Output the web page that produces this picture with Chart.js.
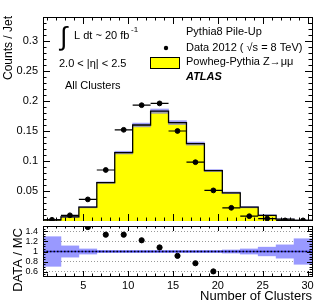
<!DOCTYPE html>
<html>
<head>
<meta charset="utf-8">
<script src="https://cdn.jsdelivr.net/npm/chart.js@4.4.1/dist/chart.umd.min.js"></script>
<style>
  body { margin: 0; background: #fff; }
  #wrap { position: relative; width: 329px; height: 305px; }
  #wrap canvas { position: absolute; left: 0; }
  #main { top: 0; }
  #ratio { top: 221px; }
</style>
</head>
<body>
<div id="wrap">
  <canvas id="main" width="329" height="221"></canvas>
  <canvas id="ratio" width="329" height="84"></canvas>
</div>
<script>
// --- data ---
const binEdges = [0.5, 2.5, 4.5, 6.5, 8.5, 10.5, 12.5, 14.5, 16.5, 18.5, 20.5, 22.5, 24.5, 26.5, 28.5, 30.5];
const binCenters = [1.5, 3.5, 5.5, 7.5, 9.5, 11.5, 13.5, 15.5, 17.5, 19.5, 21.5, 23.5, 25.5, 27.5, 29.5];
const mcValues = [0.002, 0.007, 0.023, 0.064, 0.114, 0.160, 0.183, 0.164, 0.129, 0.084, 0.047, 0.023, 0.0095, 0.003, 0.001];
const dataValues = [0.002, 0.0095, 0.036, 0.085, 0.152, 0.193, 0.196, 0.150, 0.098, 0.051, 0.022, 0.008, 0.004, 0.001, 0.001];
const mcRelErr = [0.29, 0.11, 0.05, 0.02, 0.02, 0.02, 0.02, 0.02, 0.02, 0.02, 0.03, 0.05, 0.085, 0.13, 0.25];
const ratioValues = [null, null, 1.48, 1.33, 1.33, 1.22, 1.08, 0.915, 0.77, 0.61, null, null, null, null, null];
const mainYTicks = [0.05, 0.1, 0.15, 0.2, 0.25, 0.3];
const ratioYTicks = [0.6, 0.8, 1, 1.2, 1.4];
const xTicks = [5, 10, 15, 20, 25, 30];

const FONT = "'Liberation Sans', Arial, sans-serif";

// ROOT style frame with inward ticks on all four sides
const frameTicks = {
  id: 'frameTicks',
  afterDatasetsDraw(chart, args, o) {
    const { ctx, chartArea: a, scales: { x, y } } = chart;
    ctx.save();
    ctx.strokeStyle = '#000';
    ctx.lineWidth = 1;
    ctx.beginPath();
    for (let i = o.xFrom; i <= o.xTo; i++) {
      const px = Math.round(x.getPixelForValue(i)) + 0.5;
      const len = i % 5 === 0 ? o.xMajor : o.xMajor / 2;
      ctx.moveTo(px, a.bottom); ctx.lineTo(px, a.bottom - len);
      ctx.moveTo(px, a.top); ctx.lineTo(px, a.top + len);
    }
    for (let k = o.yFrom; k <= o.yTo; k++) {
      const v = k * o.yMinor;
      const py = Math.round(y.getPixelForValue(v)) + 0.5;
      const len = k % o.yEvery === 0 ? o.yMajor : o.yMajor / 2;
      ctx.moveTo(a.left, py); ctx.lineTo(a.left + len, py);
      ctx.moveTo(a.right, py); ctx.lineTo(a.right - len, py);
    }
    ctx.stroke();
    ctx.strokeRect(Math.round(a.left) + 0.5, Math.round(a.top) + 0.5,
      Math.round(a.right - a.left), Math.round(a.bottom - a.top));
    ctx.restore();
  }
};

// text labels, legend and axis titles
const mainText = {
  id: 'mainText',
  afterDraw(chart) {
    const ctx = chart.ctx;
    ctx.save();
    ctx.fillStyle = '#000';
    ctx.textBaseline = 'middle';
    ctx.textAlign = 'left';
    ctx.font = `26px ${FONT}`;
    ctx.fillText('∫', 60, 38);
    ctx.font = `11px ${FONT}`;
    ctx.fillText('L dt ~ 20 fb', 74, 36);
    ctx.font = `8px ${FONT}`;
    ctx.fillText('-1', 131, 30);
    ctx.font = `11px ${FONT}`;
    ctx.fillText('2.0 < |η| < 2.5', 59, 64);
    ctx.fillText('All Clusters', 65, 86);

    // legend
    ctx.fillText('Pythia8 Pile-Up', 186, 32);
    ctx.fillText('Data 2012 ( √s = 8 TeV)', 186, 48);
    ctx.fillText('Powheg-Pythia Z→μμ', 186, 62);
    ctx.font = `bold italic 11px ${FONT}`;
    ctx.fillText('ATLAS', 186, 77);
    ctx.beginPath();
    ctx.arc(166, 48, 2.2, 0, Math.PI * 2);
    ctx.fill();
    ctx.fillStyle = '#ffff00';
    ctx.fillRect(150, 57, 29, 11);
    ctx.strokeStyle = '#000';
    ctx.lineWidth = 1;
    ctx.strokeRect(150.5, 57.5, 29, 11);

    // y title
    ctx.fillStyle = '#000';
    ctx.translate(9, 16);
    ctx.rotate(-Math.PI / 2);
    ctx.textAlign = 'right';
    ctx.font = `12px ${FONT}`;
    ctx.fillText('Counts / Jet', 0, 0);
    ctx.restore();
  }
};

const ratioText = {
  id: 'ratioText',
  afterDraw(chart) {
    const ctx = chart.ctx;
    ctx.save();
    ctx.fillStyle = '#000';
    ctx.textBaseline = 'middle';
    ctx.translate(18, 7);
    ctx.rotate(-Math.PI / 2);
    ctx.textAlign = 'right';
    ctx.font = `13px ${FONT}`;
    ctx.fillText('DATA / MC', 0, 0);
    ctx.restore();
  }
};

function fixY(s) {
  s.width = 43;
  s.paddingTop = 0;
  s.paddingBottom = 0;
}

// --- main panel ---
const stepPoints = binEdges.map((e, i) => ({ x: e, y: mcValues[Math.min(i, mcValues.length - 1)] }));
const mcBand = binCenters.map((c, i) => ({ x: c, y: [mcValues[i] * (1 - mcRelErr[i]), mcValues[i] * (1 + mcRelErr[i])] }));
const dataPoints = binCenters.map((c, i) => ({ x: c, y: dataValues[i] }));
const xErrSegs = [];
binCenters.forEach((c, i) => {
  xErrSegs.push({ x: binEdges[i], y: dataValues[i] });
  xErrSegs.push({ x: binEdges[i + 1], y: dataValues[i] });
  xErrSegs.push({ x: binEdges[i + 1], y: null });
});

new Chart(document.getElementById('main'), {
  type: 'bar',
  data: {
    datasets: [
      { type: 'line', data: stepPoints, stepped: 'before', fill: 'origin',
        backgroundColor: '#ffff00', borderWidth: 0, pointRadius: 0, order: 5 },
      { type: 'bar', data: mcBand, backgroundColor: 'rgba(120,120,245,0.7)',
        barPercentage: 1, categoryPercentage: 1, grouped: false, order: 4 },
      { type: 'line', data: stepPoints, stepped: 'before', fill: false,
        borderColor: '#000', borderWidth: 1.3, pointRadius: 0, order: 3 },
      { type: 'line', data: xErrSegs, spanGaps: false, fill: false,
        borderColor: '#000', borderWidth: 1.2, pointRadius: 0, order: 2 },
      { type: 'scatter', data: dataPoints, backgroundColor: '#000', borderColor: '#000',
        pointRadius: 2.4, order: 1 }
    ]
  },
  options: {
    responsive: false,
    animation: false,
    devicePixelRatio: 1,
    layout: { autoPadding: false, padding: { left: 0, right: 17, top: 17, bottom: 0 } },
    plugins: { legend: { display: false }, tooltip: { enabled: false },
      frameTicks: { xFrom: 1, xTo: 30, xMajor: 7, yFrom: 1, yTo: 33, yMinor: 0.01, yEvery: 5, yMajor: 7 } },
    scales: {
      x: { type: 'linear', min: 0.5, max: 30.5, offset: false,
        grid: { display: false }, border: { display: false },
        ticks: { display: false },
        afterFit: s => { s.height = 0; s.paddingLeft = 0; s.paddingRight = 0; } },
      y: { min: 0, max: 0.34,
        grid: { display: false, drawTicks: false }, border: { display: false },
        afterBuildTicks: s => { s.ticks = mainYTicks.map(v => ({ value: v })); },
        afterFit: fixY,
        ticks: { color: '#000', padding: 5, font: { family: FONT, size: 11, lineHeight: 0 },
          callback: v => String(+v.toFixed(2)) } }
    }
  },
  plugins: [frameTicks, mainText]
});

// --- ratio panel ---
const ratioBand = binCenters.map((c, i) => ({ x: c, y: [1 - mcRelErr[i], 1 + mcRelErr[i]] }));
const ratioPoints = binCenters.map((c, i) => ({ x: c, y: ratioValues[i] }));
const unityLine = [{ x: binEdges[0], y: 1 }, { x: binEdges[binEdges.length - 1], y: 1 }];

new Chart(document.getElementById('ratio'), {
  type: 'bar',
  data: {
    datasets: [
      { type: 'bar', data: ratioBand, backgroundColor: '#9999ff',
        barPercentage: 1, categoryPercentage: 1, grouped: false, order: 4 },
      { type: 'line', data: unityLine, borderColor: '#3a3ad8', borderWidth: 1.5,
        pointRadius: 0, fill: false, order: 3 },
      { type: 'line', data: unityLine, borderColor: '#000', borderWidth: 1.5, borderDash: [1.5, 2],
        pointRadius: 0, fill: false, order: 2 },
      { type: 'scatter', data: ratioPoints, backgroundColor: '#000', borderColor: '#000',
        pointRadius: 2.6, order: 1 }
    ]
  },
  options: {
    responsive: false,
    animation: false,
    devicePixelRatio: 1,
    layout: { autoPadding: false, padding: { left: 0, right: 17, top: 5, bottom: 0 } },
    plugins: { legend: { display: false }, tooltip: { enabled: false },
      frameTicks: { xFrom: 1, xTo: 30, xMajor: 5, yFrom: 11, yTo: 29, yMinor: 0.05, yEvery: 4, yMajor: 5 } },
    scales: {
      x: { type: 'linear', min: 0.5, max: 30.5, offset: false,
        grid: { display: false, drawTicks: false }, border: { display: false },
        afterBuildTicks: s => { s.ticks = xTicks.map(v => ({ value: v })); },
        afterFit: s => { s.height = 29; s.paddingLeft = 0; s.paddingRight = 0; },
        ticks: { color: '#000', padding: 3, maxRotation: 0, font: { family: FONT, size: 11 } },
        title: { display: true, text: 'Number of Clusters', align: 'end', color: '#000',
          padding: { top: 0, bottom: 1 }, font: { family: FONT, size: 13 } } },
      y: { min: 0.52, max: 1.5,
        grid: { drawTicks: false, color: c => (c.tick && c.tick.value === 1 ? 'rgba(0,0,0,0)' : '#999'), lineWidth: 1 },
        border: { display: false, dash: [1, 2] },
        afterBuildTicks: s => { s.ticks = ratioYTicks.map(v => ({ value: v })); },
        afterFit: fixY,
        ticks: { color: '#000', padding: 5, font: { family: FONT, size: 9, lineHeight: 0 },
          callback: v => String(+v.toFixed(1)) } }
    }
  },
  plugins: [frameTicks, ratioText]
});
</script>
</body>
</html>
